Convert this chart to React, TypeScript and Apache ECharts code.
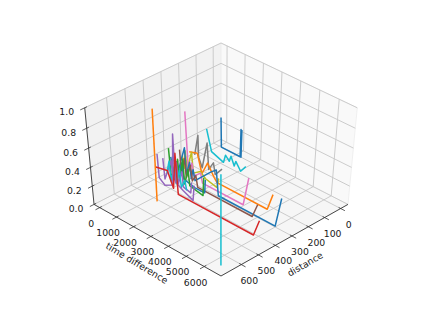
import React, { useEffect, useRef } from "react";
import * as echarts from "echarts";

type P = number[];

const distanceTicks = [0, 100, 200, 300, 400, 500, 600];
const timeTicks = [0, 1000, 2000, 3000, 4000, 5000, 6000];
const valueTicks = [0, 0.2, 0.4, 0.6, 0.8, 1.0];
const distanceLimits = [-46, 717];
const timeLimits = [-340, 6920];
const valueLimits = [0, 1];

// [distance, time difference, value]
const blueBack: P[] = [[0,100,.32],[0,120,0],[0,1230,0],[0,1260,.3],[0,1280,0],[0,1310,.3]];
const cyanBack: P[] = [[85,66,.27],[85,350,.05],[85,1054,0],[85,1170,.09],[85,1395,.045],[85,1490,.11],[85,1680,.02],[85,1770,.08],[85,2056,0],[85,2350,.08]];
const grayMid: P[] = [[183,300,.1],[183,510,.33],[183,530,.1],[183,735,0],[183,1040,.3],[183,1120,.02],[183,1400,.12],[183,1500,0],[183,1900,.1]];
const orangeMid: P[] = [[224,386,.18],[224,865,.21],[224,1113,.01],[224,1453,.16],[224,1838,.04],[224,2000,0],[224,4865,0],[224,5150,.19]];
const oliveMid: P[] = [[252,250,.15],[252,340,.02],[252,420,.22],[252,520,.03],[252,800,.24],[252,880,.02],[252,1300,.08],[252,1600,.03],[252,2270,0],[252,2350,.11]];
const pinkMid: P[] = [[271,655,.67],[271,780,.04],[271,1000,.16],[271,1100,.03],[271,1500,.1],[271,1600,0],[271,3943,0],[271,4230,.32]];
const blueFront: P[] = [[295,300,.12],[295,400,.03],[295,820,.33],[295,900,.05],[295,1100,.2],[295,1180,.03],[295,1300,.14],[295,1400,.03],[295,2346,.22],[295,2640,.27],[295,2750,0],[295,5954,0],[295,6240,.33]];
const brownMid: P[] = [[310,680,.31],[310,760,.05],[310,950,.24],[310,1040,.04],[310,1300,.2],[310,1390,.04],[310,1600,.12],[310,1700,0],[310,4815,0],[310,5100,.16]];
const blueShort: P[] = [[320,250,.2],[320,340,.05],[320,600,.18],[320,680,.04],[320,900,.2],[320,980,.03],[320,1620,0],[320,2200,0],[320,2250,.15]];
const greenMid: P[] = [[340,333,.32],[340,430,.05],[340,700,0],[340,850,.25],[340,930,.03],[340,1150,.28],[340,1230,.02],[340,1450,.2],[340,1530,.03],[340,2300,0],[340,2350,.2]];
const purpleShort: P[] = [[362,200,.22],[362,280,0],[362,700,.24],[362,780,.02],[362,1000,.25],[362,1080,.03],[362,1300,.18],[362,1380,.02],[362,1800,0],[362,1860,.12]];
const tealMid: P[] = [[370,500,.1],[370,650,.24],[370,730,.03],[370,950,.22],[370,1030,.03],[370,1250,.2],[370,1330,.02],[370,1550,.12],[370,1640,.02]];
const purpleMid: P[] = [[397,230,.3],[397,300,.05],[397,630,0],[397,1100,.05],[397,1190,.6],[397,1270,.1],[397,1700,.05],[397,2274,0],[397,2350,.17]];
const redFront: P[] = [[408,240,.17],[408,916,.2],[408,1250,.04],[408,1400,.43],[408,1520,0],[408,5795,0],[408,6100,.19]];
const orangeSpike: P[] = [[511,1270,.96],[511,1300,0]];
const cyanSpike: P[] = [[664,6412,.95],[664,6412,0]];

const traces: [P[], string][] = [
  [blueBack, "#1f77b4"],
  [cyanBack, "#17becf"],
  [grayMid, "#7f7f7f"],
  [orangeMid, "#ff7f0e"],
  [oliveMid, "#bcbd22"],
  [pinkMid, "#e377c2"],
  [blueFront, "#1f77b4"],
  [brownMid, "#8c564b"],
  [blueShort, "#1f77b4"],
  [greenMid, "#2ca02c"],
  [purpleShort, "#9467bd"],
  [tealMid, "#17becf"],
  [purpleMid, "#9467bd"],
  [redFront, "#d62728"],
  [orangeSpike, "#ff7f0e"],
  [cyanSpike, "#17becf"],
];

const rad = Math.PI / 4;
const s = Math.sin(rad), c = Math.cos(rad);
const norm = (v: number, l: number[]) => (v - l[0]) / (l[1] - l[0]) - 0.5;
function project(d: number, t: number, z: number): number[] {
  const x = norm(d, distanceLimits), y = norm(t, timeLimits), w = norm(z, valueLimits);
  const u = (-x + y) * c;
  const v = -(x + y) * s * c + w * c;
  const depth = (x + y) * c * c + w * s;
  const k = 1 / (10 - depth);
  return [221 + 1859 * u * k, 157.8 - 1364.5 * v * k];
}

const [d0, d1] = distanceLimits;
const [t0, t1] = timeLimits;
const [z0, z1] = valueLimits;

const lineSeries = (data: number[][], color: string, width: number, z: number) => ({
  type: "line",
  data,
  showSymbol: false,
  silent: true,
  z,
  clip: false,
  lineStyle: { color, width, cap: "butt", join: "round" },
});

function buildOption() {
  const series: any[] = [];
  const panes: [number[][], string][] = [
    [[[d0,t0,z0],[d1,t0,z0],[d1,t1,z0],[d0,t1,z0]], "#f6f6f6"],
    [[[d0,t0,z0],[d1,t0,z0],[d1,t0,z1],[d0,t0,z1]], "#f2f2f2"],
    [[[d0,t0,z0],[d0,t1,z0],[d0,t1,z1],[d0,t0,z1]], "#f9f9f9"],
  ];
  series.push({
    type: "custom",
    silent: true,
    z: 1,
    data: panes.map((_, i) => [i]),
    renderItem: (_p: any, api: any) => {
      const [pts, fill] = panes[api.value(0)];
      return {
        type: "polygon",
        shape: { points: pts.map((q) => api.coord(project(q[0], q[1], q[2]))) },
        style: { fill, stroke: "#ececec", lineWidth: 0.8 },
      };
    },
  });
  const gridColor = "#c6c6c6";
  distanceTicks.forEach((d) => {
    series.push(lineSeries([project(d,t1,z0), project(d,t0,z0), project(d,t0,z1)], gridColor, 0.9, 2));
  });
  timeTicks.forEach((t) => {
    series.push(lineSeries([project(d1,t,z0), project(d0,t,z0), project(d0,t,z1)], gridColor, 0.9, 2));
  });
  valueTicks.forEach((v) => {
    series.push(lineSeries([project(d1,t0,v), project(d0,t0,v), project(d0,t1,v)], gridColor, 0.9, 2));
  });
  const axisColor = "#333333";
  series.push(lineSeries([project(d1,t0,z0), project(d1,t1,z0), project(d0,t1,z0)], axisColor, 0.9, 3));
  series.push(lineSeries([project(d1,t0,z0), project(d1,t0,z1)], axisColor, 0.9, 3));
  timeTicks.forEach((t) => {
    series.push(lineSeries([project(d1 - 12,t,z0), project(d1 + 24,t,z0)], axisColor, 0.8, 3));
  });
  distanceTicks.forEach((d) => {
    series.push(lineSeries([project(d,t1 - 110,z0), project(d,t1 + 230,z0)], axisColor, 0.8, 3));
  });
  valueTicks.forEach((v) => {
    series.push(lineSeries([project(d1 - 12,t0,v), project(d1 + 24,t0,v)], axisColor, 0.8, 3));
  });
  traces.forEach(([pts, color], i) => {
    series.push(lineSeries(pts.map((q) => project(q[0], q[1], q[2])), color, 1.5, 10 + i));
  });

  const labels: { text: string; at: number[]; rot: number }[] = [];
  valueTicks.forEach((v) => {
    const p = project(d1, t0, v);
    labels.push({ text: v.toFixed(1), at: [p[0] - 18, p[1] + 4], rot: 0 });
  });
  timeTicks.forEach((t) => {
    const p = project(d1, t, z0);
    labels.push({ text: String(t), at: [p[0] - 8.5, p[1] + 15.5], rot: 0 });
  });
  distanceTicks.forEach((d) => {
    const p = project(d, t1, z0);
    labels.push({ text: String(d), at: [p[0] + 8, p[1] + 15.5], rot: 0 });
  });
  labels.push({ text: "time difference", at: [137, 263], rot: -31 });
  labels.push({ text: "distance", at: [305, 264], rot: 30 });
  series.push({
    type: "custom",
    silent: true,
    z: 50,
    data: labels.map((_, i) => [i]),
    renderItem: (_p: any, api: any) => {
      const l = labels[api.value(0)];
      const p = api.coord(l.at);
      return {
        type: "text",
        x: p[0],
        y: p[1],
        rotation: (l.rot * Math.PI) / 180,
        style: {
          text: l.text,
          fill: "#1a1a1a",
          font: "9.3px 'DejaVu Sans'",
          align: "center",
          verticalAlign: "middle",
        },
      };
    },
  });

  return {
    animation: false,
    grid: { left: 0, right: 0, top: 0, bottom: 0 },
    xAxis: { type: "value", min: 0, max: 423, show: false },
    yAxis: { type: "value", min: 0, max: 317, inverse: true, show: false },
    series,
  };
}

export default function App() {
  const ref = useRef<HTMLDivElement>(null);
  useEffect(() => {
    document.body.style.margin = "0";
    const chart = echarts.init(ref.current!, undefined, { renderer: "svg" });
    chart.setOption(buildOption() as any);
    return () => chart.dispose();
  }, []);
  return <div ref={ref} style={{ width: 423, height: 317, background: "#fff" }} />;
}
